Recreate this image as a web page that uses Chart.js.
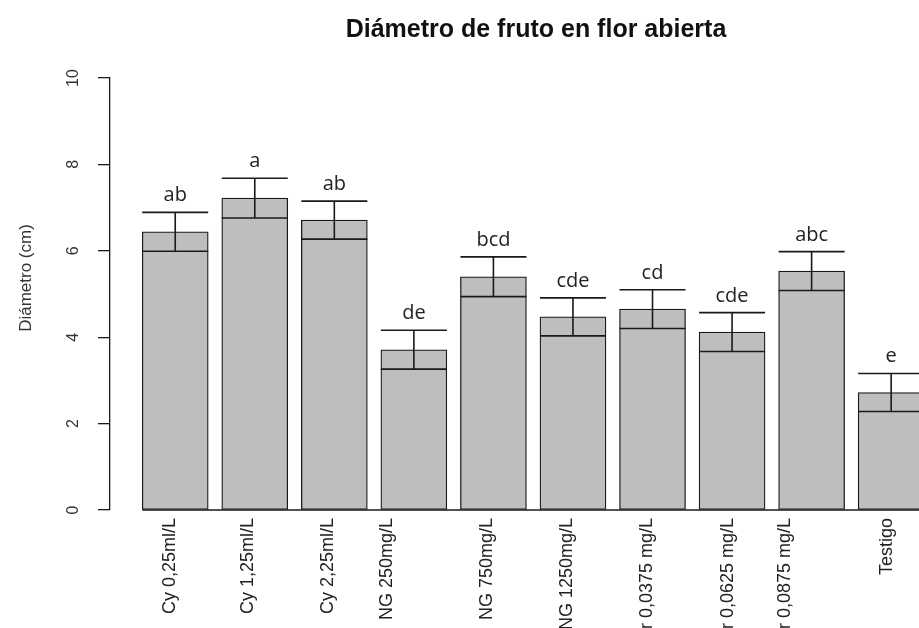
<!DOCTYPE html>
<html>
<head>
<meta charset="utf-8">
<title>Diámetro de fruto en flor abierta</title>
<script src="https://cdn.jsdelivr.net/npm/chart.js@4.4.1/dist/chart.umd.min.js"></script>
<style>
  html, body { margin: 0; padding: 0; background: #fff; }
  #wrap { width: 919px; height: 628px; }
</style>
</head>
<body>
<div id="wrap"><canvas id="diamChart" width="919" height="628"></canvas></div>
<script>
// tratamientos y medias (cm) con su error estandar
const treatments = ["Cy 0,25ml/L", "Cy 1,25ml/L", "Cy 2,25ml/L", "NG 250mg/L", "NG 750mg/L",
                    "NG 1250mg/L", "Br 0,0375 mg/L", "Br 0,0625 mg/L", "Br 0,0875 mg/L", "Testigo"];
const means = [6.44, 7.22, 6.71, 3.71, 5.40, 4.47, 4.65, 4.12, 5.53, 2.72];
const stdErr = [0.45, 0.46, 0.44, 0.45, 0.46, 0.44, 0.45, 0.45, 0.45, 0.44];
// letras de Tukey
const groups = ["ab", "a", "ab", "de", "bcd", "cde", "cd", "cde", "abc", "e"];
// donde van los nombres en el eje x (como axis(1, at=...))
const labelAt = [0.94, 1.92, 2.92, 3.66, 4.92, 5.93, 6.93, 7.95, 8.66, 9.95];
const yTicks = [0, 2, 4, 6, 8, 10];

const ink = "#1a1a1a";
const sans = "'Liberation Sans', Arial, sans-serif";

// barras de error (media +/- EE) y letras encima
const errorBars = {
    id: "errorBars",
    afterDatasetsDraw(chart) {
        const ctx = chart.ctx;
        const y = chart.scales.y;
        const bars = chart.getDatasetMeta(0).data;
        ctx.save();
        ctx.strokeStyle = ink;
        ctx.lineWidth = 1.6;
        ctx.fillStyle = "#222";
        ctx.font = "20px 'Open Sans', sans-serif";
        ctx.textAlign = "center";
        ctx.textBaseline = "alphabetic";
        bars.forEach((bar, i) => {
            const half = bar.width / 2;
            const lo = y.getPixelForValue(means[i] - stdErr[i]);
            const hi = y.getPixelForValue(means[i] + stdErr[i]);
            ctx.beginPath();
            ctx.moveTo(bar.x - half, lo); ctx.lineTo(bar.x + half, lo);
            ctx.moveTo(bar.x - half, hi); ctx.lineTo(bar.x + half, hi);
            ctx.moveTo(bar.x, lo); ctx.lineTo(bar.x, hi);
            ctx.stroke();
            ctx.fillText(groups[i], bar.x, hi - 11);
        });
        ctx.restore();
    }
};

// linea base, titulo y titulo del eje y
const frame = {
    id: "frame",
    afterDraw(chart) {
        const ctx = chart.ctx;
        const first = chart.getDatasetMeta(0).data[0];
        const y0 = chart.scales.y.getPixelForValue(0);
        ctx.save();
        ctx.strokeStyle = ink;
        ctx.lineWidth = 1.3;
        ctx.beginPath();
        ctx.moveTo(first.x - first.width / 2, y0);
        ctx.lineTo(chart.width, y0);
        ctx.stroke();

        ctx.fillStyle = "#111";
        ctx.textAlign = "center";
        ctx.textBaseline = "alphabetic";
        ctx.font = "bold 25px " + sans;
        ctx.fillText("Diámetro de fruto en flor abierta", 536, 37);

        ctx.translate(31, 278);
        ctx.rotate(-Math.PI / 2);
        ctx.fillStyle = "#333";
        ctx.font = "17px " + sans;
        ctx.fillText("Diámetro (cm)", 0, 0);
        ctx.restore();
    }
};

new Chart(document.getElementById("diamChart"), {
    type: "bar",
    data: {
        datasets: [{
            data: means.map((m, i) => ({ x: i + 1, y: m })),
            backgroundColor: "#bebebe",
            borderColor: ink,
            borderWidth: 1.3,
            borderSkipped: false,
            barThickness: 66
        }]
    },
    options: {
        responsive: false,
        animation: false,
        layout: { padding: { top: 78, left: 0, right: 0, bottom: 0 } },
        plugins: {
            legend: { display: false },
            tooltip: { enabled: false },
            title: { display: false }
        },
        scales: {
            x: {
                type: "linear",
                min: 0.18,
                max: 10.35,
                offset: false,
                grid: { display: false },
                border: { display: false },
                afterBuildTicks: s => { s.ticks = labelAt.map(v => ({ value: v })); },
                afterFit: s => { s.height = 118; },
                ticks: {
                    autoSkip: false,
                    minRotation: 90,
                    maxRotation: 90,
                    padding: 0,
                    color: "#222",
                    font: { family: sans, size: 18 },
                    callback: (v, i) => treatments[i]
                }
            },
            y: {
                min: 0,
                max: 10,
                afterBuildTicks: s => { s.ticks = yTicks.map(v => ({ value: v })); },
                afterFit: s => { s.width = 110; },
                grid: { drawOnChartArea: false, drawTicks: true, tickLength: 12, color: ink, lineWidth: 1.3 },
                border: { display: true, color: ink, width: 1.3 },
                ticks: {
                    minRotation: 90,
                    maxRotation: 90,
                    crossAlign: "center",
                    padding: 16,
                    color: "#333",
                    font: { family: sans, size: 16 }
                }
            }
        }
    },
    plugins: [errorBars, frame]
});
</script>
</body>
</html>
